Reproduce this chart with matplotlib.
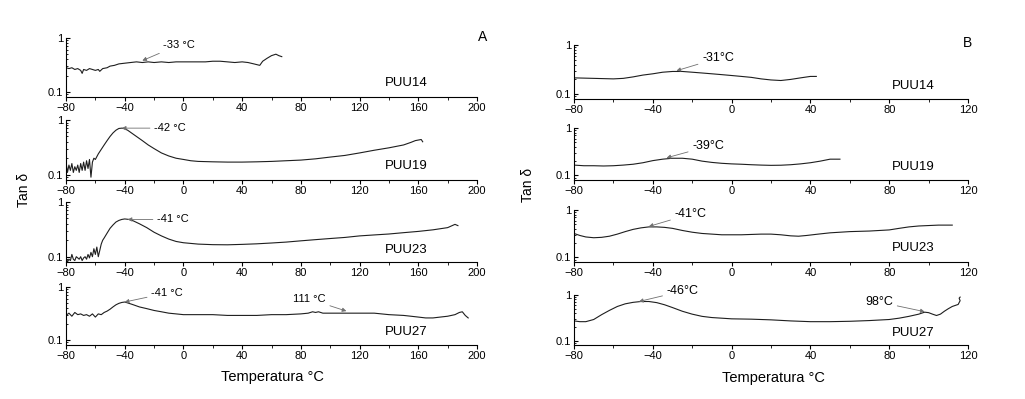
import matplotlib
matplotlib.use("Agg")
import matplotlib.pyplot as plt
from matplotlib.ticker import MultipleLocator, LogLocator, NullFormatter

plt.rcParams["font.family"] = ["Liberation Sans", "DejaVu Sans"]

# ---- panel A (left) ----
a14_x = [-80, -78, -76, -74, -72, -70, -69, -68, -66, -64, -62, -60, -58, -57, -55, -52, -50, -47, -44, -40,
         -36, -32, -28, -24, -20, -15, -10, -5, 0, 5, 10, 15, 20, 25, 30, 35, 40, 44, 48, 52,
         54, 57, 60, 63, 65, 67]
a14_y = [0.28, 0.27, 0.28, 0.26, 0.27, 0.25, 0.22, 0.26, 0.25, 0.27, 0.26, 0.25, 0.26, 0.24, 0.27, 0.28, 0.30, 0.31, 0.33, 0.34,
         0.35, 0.36, 0.35, 0.36, 0.35, 0.36, 0.35, 0.36, 0.36, 0.36, 0.36, 0.36, 0.37, 0.37, 0.36, 0.35, 0.36, 0.35, 0.33, 0.31,
         0.37, 0.42, 0.47, 0.50, 0.47, 0.45]

a19_x = [-80, -79, -78, -77, -76, -75, -74, -73, -72, -71, -70, -69, -68, -67, -66, -65, -64, -63, -62, -61,
         -60, -58, -56, -54, -52, -50, -48, -46, -44, -42, -40, -38, -35, -32, -28, -24, -20, -15, -10, -5,
         0, 5, 10, 20, 30, 40, 50, 60, 70, 80, 90, 100, 110, 120, 130, 140, 150, 155, 158, 160,
         162, 163]
a19_y = [0.17, 0.11, 0.15, 0.12, 0.16, 0.11, 0.14, 0.12, 0.15, 0.11, 0.16, 0.12, 0.17, 0.12, 0.18, 0.13, 0.19, 0.09, 0.17, 0.20,
         0.19, 0.24, 0.29, 0.35, 0.42, 0.50, 0.58, 0.65, 0.70, 0.71, 0.69, 0.65, 0.57, 0.50, 0.42, 0.35, 0.30, 0.25, 0.22, 0.20,
         0.19, 0.18, 0.175, 0.172, 0.170, 0.170, 0.172, 0.175, 0.180, 0.185, 0.195, 0.21, 0.225, 0.25, 0.28, 0.31, 0.35, 0.39, 0.42, 0.43,
         0.44, 0.40]

a23_x = [-80, -79, -78, -77, -76, -75, -74, -73, -72, -71, -70, -69, -68, -67, -66, -65, -64, -63, -62, -61,
         -60, -59, -58, -57, -56, -55, -54, -52, -50, -48, -46, -44, -42, -40, -37, -34, -30, -25, -20, -15,
         -10, -5, 0, 10, 20, 30, 40, 50, 60, 70, 80, 90, 100, 110, 120, 130, 140, 150, 160, 170,
         180, 185, 187]
a23_y = [0.095, 0.08, 0.09, 0.085, 0.11, 0.09, 0.085, 0.10, 0.095, 0.09, 0.10, 0.085, 0.095, 0.10, 0.09, 0.11, 0.095, 0.12, 0.10, 0.14,
         0.11, 0.15, 0.10, 0.13, 0.17, 0.20, 0.22, 0.27, 0.33, 0.38, 0.43, 0.46, 0.48, 0.49, 0.48, 0.45, 0.40, 0.34, 0.28, 0.24,
         0.21, 0.19, 0.18, 0.17, 0.166, 0.165, 0.168, 0.172, 0.178, 0.185, 0.195, 0.205, 0.215, 0.225, 0.24, 0.25, 0.26, 0.275, 0.29, 0.31,
         0.34, 0.39, 0.37]

a27_x = [-80, -78, -76, -74, -72, -70, -68, -66, -64, -62, -60, -58, -56, -54, -52, -50, -48, -46, -44, -42,
         -40, -38, -35, -30, -25, -20, -15, -10, -5, 0, 10, 20, 30, 40, 50, 60, 70, 80, 85, 88,
         90, 92, 95, 100, 110, 120, 130, 140, 150, 155, 160, 165, 170, 175, 180, 185, 188, 190, 192, 194]
a27_y = [0.29, 0.32, 0.28, 0.33, 0.30, 0.31, 0.29, 0.30, 0.28, 0.31, 0.27, 0.31, 0.30, 0.33, 0.35, 0.38, 0.42, 0.46, 0.49, 0.51,
         0.52, 0.50, 0.47, 0.42, 0.39, 0.36, 0.34, 0.32, 0.31, 0.30, 0.30, 0.30, 0.29, 0.29, 0.29, 0.30, 0.30, 0.31, 0.32, 0.34,
         0.33, 0.34, 0.32, 0.32, 0.32, 0.32, 0.32, 0.30, 0.29, 0.28, 0.27, 0.26, 0.26, 0.27, 0.28, 0.30, 0.33, 0.34, 0.29, 0.26]

# ---- panel B (right) ----
b14_x = [-80, -70, -60, -55, -50, -45, -40, -35, -30, -25, -20, -15, -10, -5, 0, 5, 10, 15, 20, 25,
         30, 35, 40, 43]
b14_y = [0.215, 0.21, 0.205, 0.21, 0.225, 0.245, 0.26, 0.28, 0.29, 0.29, 0.28, 0.27, 0.26, 0.25, 0.24, 0.23, 0.22, 0.205, 0.195, 0.19,
         0.20, 0.215, 0.23, 0.23]

b19_x = [-80, -75, -70, -65, -60, -55, -50, -45, -40, -35, -30, -25, -20, -15, -10, -5, 0, 5, 10, 15,
         20, 25, 30, 35, 40, 45, 50, 55]
b19_y = [0.165, 0.16, 0.16, 0.158, 0.16, 0.165, 0.172, 0.185, 0.205, 0.22, 0.23, 0.23, 0.22, 0.20, 0.188, 0.18, 0.175, 0.172, 0.168, 0.165,
         0.163, 0.164, 0.168, 0.175, 0.185, 0.20, 0.22, 0.22]

b23_x = [-80, -77, -74, -70, -66, -62, -58, -54, -50, -46, -42, -38, -34, -30, -25, -20, -15, -10, -5, 0,
         5, 10, 15, 20, 25, 30, 34, 38, 44, 50, 60, 70, 80, 85, 90, 95, 100, 105, 112]
b23_y = [0.32, 0.29, 0.27, 0.26, 0.265, 0.28, 0.31, 0.35, 0.39, 0.42, 0.44, 0.44, 0.43, 0.41, 0.37, 0.34, 0.32, 0.31, 0.30, 0.30,
         0.30, 0.305, 0.31, 0.31, 0.30, 0.285, 0.28, 0.29, 0.31, 0.33, 0.35, 0.36, 0.38, 0.41, 0.44, 0.46, 0.47, 0.48, 0.48]

b27_x = [-80, -77, -74, -70, -66, -62, -58, -54, -50, -46, -42, -38, -34, -30, -25, -20, -15, -10, -5, 0,
         10, 20, 30, 40, 50, 60, 70, 80, 85, 90, 95, 98, 100, 102, 104, 106, 108, 110, 112, 114,
         115, 116, 115.5, 116]
b27_y = [0.27, 0.26, 0.26, 0.29, 0.37, 0.46, 0.56, 0.64, 0.69, 0.72, 0.72, 0.68, 0.61, 0.53, 0.44, 0.38, 0.34, 0.32, 0.31, 0.30,
         0.295, 0.285, 0.27, 0.26, 0.26, 0.265, 0.275, 0.29, 0.31, 0.34, 0.38, 0.42, 0.41, 0.38, 0.355, 0.38, 0.44, 0.50, 0.56, 0.60,
         0.62, 0.75, 0.85, 0.90]

names = ["PUU14", "PUU19", "PUU23", "PUU27"]
panel_a = [(a14_x, a14_y), (a19_x, a19_y), (a23_x, a23_y), (a27_x, a27_y)]
panel_b = [(b14_x, b14_y), (b19_x, b19_y), (b23_x, b23_y), (b27_x, b27_y)]

# annotations: (row, text, text xy, arrow target xy, ha)
notes_a = [
    (0, "-33 °C", (-14, 0.74), (-28, 0.38), "left"),
    (1, "-42 °C", (-20, 0.71), (-42, 0.71), "left"),
    (2, "-41 °C", (-18, 0.48), (-38, 0.48), "left"),
    (3, "-41 °C", (-22, 0.77), (-40, 0.52), "left"),
    (3, "111 °C", (97, 0.59), (111, 0.35), "right"),
]
notes_b = [
    (0, "-31°C", (-15, 0.54), (-28, 0.30), "left"),
    (1, "-39°C", (-20, 0.41), (-33, 0.235), "left"),
    (2, "-41°C", (-29, 0.82), (-42, 0.45), "left"),
    (3, "-46°C", (-33, 1.22), (-47, 0.72), "left"),
    (3, "98°C", (82, 0.70), (98, 0.43), "right"),
]

W, H = 1025, 399
fig = plt.figure(figsize=(W / 100, H / 100), dpi=100)


def add_ax(x0, x1, ytop, ybot):
    return fig.add_axes([x0 / W, 1 - ybot / H, (x1 - x0) / W, (ybot - ytop) / H])


def style(ax, xlim, xmaj):
    ax.set_yscale("log")
    ax.set_xlim(*xlim)
    ax.set_ylim(0.08, 1.0)
    ax.spines[["top", "right"]].set_visible(False)
    for sp in ("left", "bottom"):
        ax.spines[sp].set_linewidth(0.8)
    ax.xaxis.set_major_locator(MultipleLocator(xmaj))
    ax.xaxis.set_minor_locator(MultipleLocator(xmaj / 2))
    ax.set_yticks([0.1, 1])
    ax.set_yticklabels(["0.1", "1"])
    ax.yaxis.set_minor_locator(LogLocator(base=10, subs=range(2, 10)))
    ax.yaxis.set_minor_formatter(NullFormatter())
    ax.tick_params(axis="x", which="major", direction="out", length=3, labelsize=8, pad=1.5)
    ax.tick_params(axis="x", which="minor", direction="out", length=2)
    ax.tick_params(axis="y", which="major", direction="in", length=3, labelsize=8, pad=2)
    ax.tick_params(axis="y", which="minor", direction="in", length=1.5)


rows_a = [(38, 97), (120, 180), (202, 262), (287, 345)]
rows_b = [(45, 99), (128, 180), (210, 262), (295, 345)]

for panel, rows, px, xlim, xmaj, notes, note_fs, lab_x, lab_y in [
    (panel_a, rows_a, (66, 477), (-80, 200), 40, notes_a, 8, 152, [0.147, 0.147, 0.13, 0.14]),
    (panel_b, rows_b, (574, 968), (-80, 120), 40, notes_b, 9, 92, [0.147, 0.148, 0.16, 0.15]),
]:
    axes = []
    for i, ((xs, ys), (yt, yb)) in enumerate(zip(panel, rows)):
        ax = add_ax(px[0], px[1], yt, yb)
        style(ax, xlim, xmaj)
        ax.plot(xs, ys, color="#1e1e1e", lw=0.8)
        ax.text(lab_x, lab_y[i], names[i], ha="center", va="center", fontsize=9.5)
        axes.append(ax)
    for row, txt, xyt, xy, ha in notes:
        axes[row].annotate(txt, xy=xy, xytext=xyt, ha=ha, va="center", fontsize=note_fs,
                           annotation_clip=False,
                           arrowprops=dict(arrowstyle="-|>", color="#707070", lw=0.6,
                                           mutation_scale=6, shrinkA=1, shrinkB=0))

fig.text(483 / W, 1 - 37 / H, "A", ha="center", va="center", fontsize=10)
fig.text(968 / W, 1 - 43 / H, "B", ha="center", va="center", fontsize=10)
fig.text(24 / W, 1 - 190 / H, "Tan δ", rotation=90, ha="center", va="center", fontsize=10)
fig.text(528 / W, 1 - 185 / H, "Tan δ", rotation=90, ha="center", va="center", fontsize=10)
fig.text(272 / W, 1 - 377 / H, "Temperatura °C", ha="center", va="center", fontsize=10.5)
fig.text(773 / W, 1 - 378 / H, "Temperatura °C", ha="center", va="center", fontsize=10.5)

fig.savefig("out.png", dpi=100)
